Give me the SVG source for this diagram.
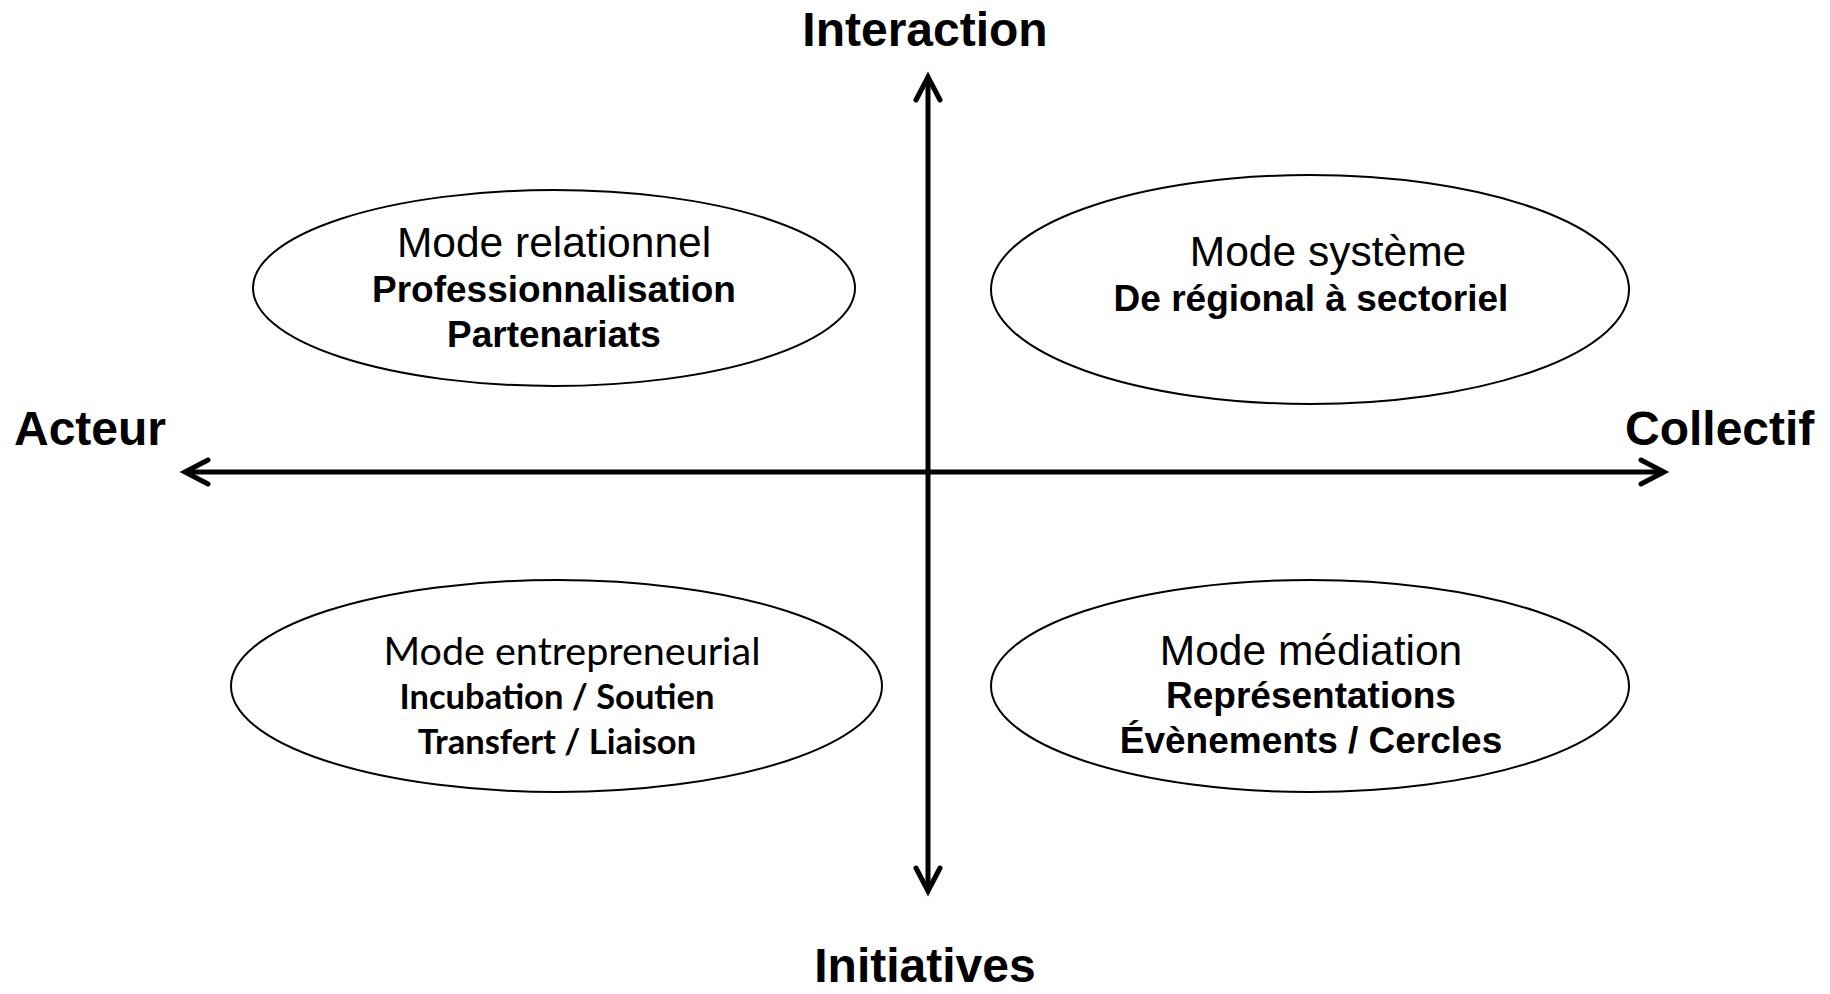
<svg xmlns="http://www.w3.org/2000/svg" width="1830" height="994" viewBox="0 0 1830 994">
<style>
.bg{fill:#fff}
.ell{fill:none;stroke:#000;stroke-width:2}
.axis{fill:none;stroke:#000;stroke-width:5}
.head{fill:none;stroke:#000;stroke-width:5;stroke-linecap:round;stroke-linejoin:miter}
.lab{font-family:"Liberation Sans",Arial,sans-serif;font-weight:bold;font-size:48px;fill:#000}
.t1{font-family:"Liberation Sans",Arial,sans-serif;font-size:42.5px;fill:#000;text-anchor:middle}
.t2{font-family:"Liberation Sans",Arial,sans-serif;font-weight:bold;font-size:37px;fill:#000;text-anchor:middle}
.c1{font-family:Lato,"Open Sans",sans-serif;font-size:39.5px;fill:#000;text-anchor:middle}
.c2{font-family:Lato,"Open Sans",sans-serif;font-weight:bold;font-size:34.5px;fill:#000;text-anchor:middle}
</style>
<rect class="bg" x="0" y="0" width="1830" height="994"/>
<g id="connectors">
<line class="axis" x1="928" y1="78" x2="928" y2="890"/>
<polyline class="head" points="916,100 928,77 940,100"/>
<polyline class="head" points="916,868 928,891 940,868"/>
<line class="axis" x1="186" y1="472" x2="1663" y2="472"/>
<polyline class="head" points="208,460 185,472 208,484"/>
<polyline class="head" points="1641,460 1664,472 1641,484"/>
</g>
<g id="label-interaction"><text class="lab" x="925" y="46" text-anchor="middle">Interaction</text></g>
<g id="label-initiatives"><text class="lab" x="925" y="982" text-anchor="middle">Initiatives</text></g>
<g id="label-acteur"><text class="lab" x="14" y="445">Acteur</text></g>
<g id="label-collectif"><text class="lab" x="1625" y="445">Collectif</text></g>
<g id="mode-relationnel">
<ellipse class="ell" cx="554" cy="288" rx="301" ry="98"/>
<text class="t1" x="554" y="257">Mode relationnel</text>
<text class="t2" x="554" y="302">Professionnalisation</text>
<text class="t2" x="554" y="347">Partenariats</text>
</g>
<g id="mode-systeme">
<ellipse class="ell" cx="1310" cy="289.5" rx="319" ry="114.5"/>
<text class="t1" x="1328" y="266">Mode système</text>
<text class="t2" x="1311" y="311">De régional à sectoriel</text>
</g>
<g id="mode-entrepreneurial">
<ellipse class="ell" cx="556.5" cy="686" rx="325.5" ry="106"/>
<text class="c1" x="572" y="665">Mode entrepreneurial</text>
<text class="c2" x="557" y="709">Incubation / Soutien</text>
<text class="c2" x="557" y="754">Transfert / Liaison</text>
</g>
<g id="mode-mediation">
<ellipse class="ell" cx="1310" cy="686" rx="319" ry="106"/>
<text class="t1" x="1311" y="665">Mode médiation</text>
<text class="t2" x="1311" y="708">Représentations</text>
<text class="t2" x="1311" y="753">Évènements / Cercles</text>
</g>
</svg>
